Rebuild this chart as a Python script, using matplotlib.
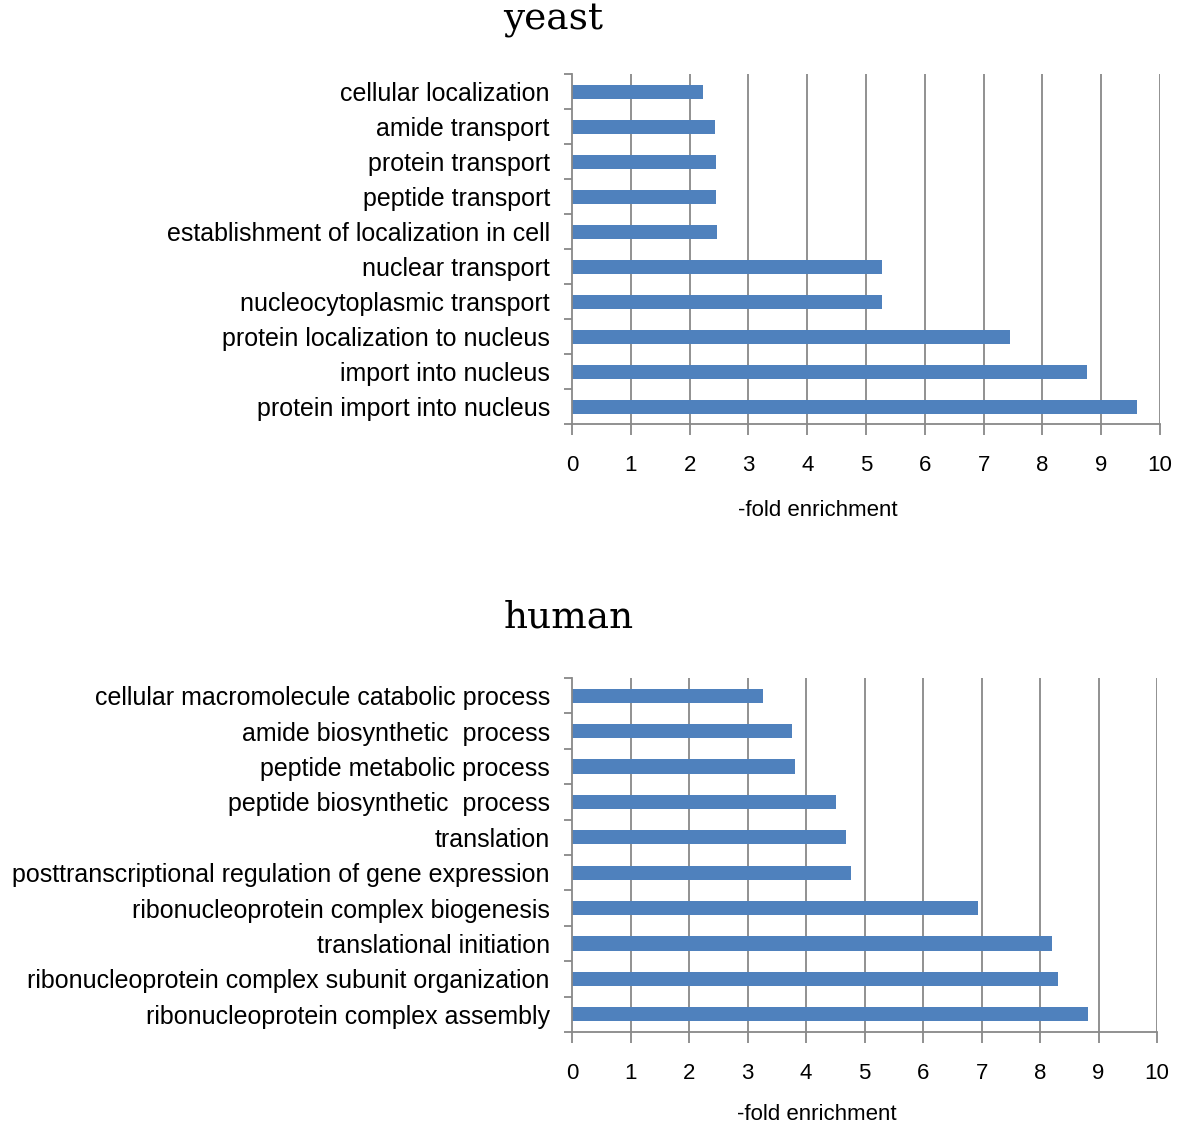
import numpy as np
import matplotlib
matplotlib.use("Agg")
import matplotlib.pyplot as plt
from matplotlib.ticker import FixedLocator

# data, listed top to bottom as shown
yeast_terms = [
    "cellular localization",
    "amide transport",
    "protein transport",
    "peptide transport",
    "establishment of localization in cell",
    "nuclear transport",
    "nucleocytoplasmic transport",
    "protein localization to nucleus",
    "import into nucleus",
    "protein import into nucleus",
]
yeast_fold = [2.23, 2.43, 2.45, 2.45, 2.47, 5.27, 5.27, 7.45, 8.76, 9.61]

human_terms = [
    "cellular macromolecule catabolic process",
    "amide biosynthetic  process",
    "peptide metabolic process",
    "peptide biosynthetic  process",
    "translation",
    "posttranscriptional regulation of gene expression",
    "ribonucleoprotein complex biogenesis",
    "translational initiation",
    "ribonucleoprotein complex subunit organization",
    "ribonucleoprotein complex assembly",
]
human_fold = [3.26, 3.76, 3.81, 4.51, 4.68, 4.77, 6.94, 8.21, 8.31, 8.82]

x_ticks = list(range(0, 11))

BAR = "#4F81BD"
GRID = "#888888"
SANS = ["Liberation Sans", "DejaVu Sans"]


def draw_panel(ax, terms, values):
    n = len(terms)
    pos = np.arange(n)[::-1]
    for xv in x_ticks[1:]:
        ax.axvline(xv, color=GRID, lw=1.3, zorder=0)
    ax.barh(pos, values, height=0.4, color=BAR, zorder=2)
    ax.set_xlim(0, 10)
    ax.set_ylim(-0.5, n - 0.5)
    ax.set_xticks(x_ticks)
    ax.set_xticklabels([str(t) for t in x_ticks], family=SANS, fontsize=16)
    ax.set_yticks(pos)
    ax.set_yticklabels(terms, family=SANS, fontsize=18)
    ax.yaxis.set_minor_locator(FixedLocator(np.arange(-0.5, n, 1.0)))
    ax.tick_params(axis="y", which="major", length=0, pad=16)
    ax.tick_params(axis="y", which="minor", length=6, color=GRID, width=1.3)
    ax.tick_params(axis="x", length=8, color=GRID, width=1.3, pad=14)
    for s in ("top", "right"):
        ax.spines[s].set_visible(False)
    for s in ("left", "bottom"):
        ax.spines[s].set_color(GRID)
        ax.spines[s].set_linewidth(1.3)
    ax.set_xlabel("-fold enrichment", family=SANS, fontsize=16)
    ax.xaxis.label.set_va("center")


fig = plt.figure(figsize=(11.79, 11.26), dpi=100)
ax1 = fig.add_axes([0.4852, 0.6234, 0.4987, 0.3108])
ax2 = fig.add_axes([0.4852, 0.0835, 0.4962, 0.3144])

draw_panel(ax1, yeast_terms, yeast_fold)
draw_panel(ax2, human_terms, human_fold)

# place x labels by pixel position beneath each axes
ax1.xaxis.set_label_coords(0.418, -(510 - 424) / (0.3108 * 1126), transform=ax1.transAxes)
ax2.xaxis.set_label_coords(0.418, -(1115 - 1032) / (0.3144 * 1126), transform=ax2.transAxes)

fig.text(553 / 1179, 1 - 20 / 1126, "yeast", family=["DejaVu Serif"],
         fontsize=27, ha="center", va="center")
fig.text(569 / 1179, 1 - 617 / 1126, "human", family=["DejaVu Serif"],
         fontsize=27, ha="center", va="center")

fig.savefig("out.png", dpi=100)
